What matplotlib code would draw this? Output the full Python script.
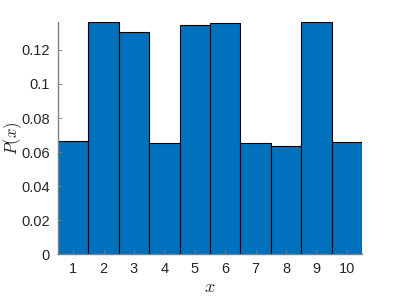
import matplotlib
matplotlib.use('Agg')
import matplotlib.pyplot as plt
import numpy as np

# histogram values
x_vals = [1, 2, 3, 4, 5, 6, 7, 8, 9, 10]
p_vals = [0.0665, 0.1365, 0.1306, 0.0651, 0.1347, 0.1361, 0.0653, 0.0637, 0.1365, 0.0661]
y_ticks = [0, 0.02, 0.04, 0.06, 0.08, 0.1, 0.12]
y_tick_labels = ['0', '0.02', '0.04', '0.06', '0.08', '0.1', '0.12']

plt.rcParams['font.family'] = ['Liberation Sans', 'DejaVu Sans']
plt.rcParams['mathtext.fontset'] = 'cm'

fig = plt.figure(figsize=(4, 3), dpi=100)
ax = fig.add_axes([0.145, 0.153, 0.76, 0.774])

ax.bar(x_vals, p_vals, width=1.0, color='#0072BD', edgecolor='black', linewidth=0.8)

ax.set_xlim(0.5, 10.5)
ax.set_ylim(0, max(p_vals))
ax.set_xticks(x_vals)
ax.set_yticks(y_ticks)
ax.set_yticklabels(y_tick_labels)

for s in ['top', 'right']:
    ax.spines[s].set_visible(False)
for s in ['left', 'bottom']:
    ax.spines[s].set_color('#808080')
    ax.spines[s].set_linewidth(1.0)

ax.tick_params(direction='in', length=3, width=0.6, color='#808080',
               labelsize=10.5, labelcolor='#262626', pad=6)

ax.set_xlabel('$x$', fontsize=13, color='#262626', labelpad=2)
ax.set_ylabel('$P(x)$', fontsize=12, color='#262626', va='center')
ax.yaxis.set_label_coords(-0.148, 0.5)

plt.savefig('out.png', dpi=100)
